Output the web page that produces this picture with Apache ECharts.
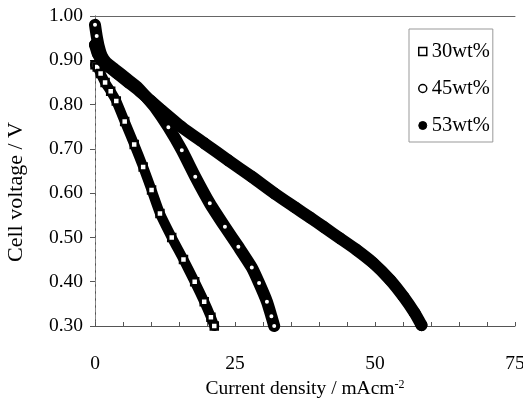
<!DOCTYPE html>
<html>
<head>
<meta charset="utf-8">
<script src="https://cdn.jsdelivr.net/npm/echarts@6/dist/echarts.min.js"></script>
<style>
html,body{margin:0;padding:0;background:#fff;}
#chart{width:523px;height:411px;}
</style>
</head>
<body>
<div id="chart"></div>
<script>
// Current density (mA/cm2) and cell voltage (V)
const current30 = [0, 0.4, 1.0, 1.8, 2.8, 3.8, 5.3, 7.0, 8.6, 10.1, 11.6, 13.7, 15.8, 17.8, 19.5, 20.7, 21.3];
const voltage30 = [0.89, 0.885, 0.87, 0.85, 0.83, 0.808, 0.762, 0.71, 0.659, 0.607, 0.554, 0.50, 0.45, 0.40, 0.355, 0.32, 0.30];

const current45 = [0, 0.3, 0.7, 1.2, 2.0, 3.5, 5.5, 7.5, 9.3, 10.7, 13.1, 15.5, 17.9, 20.5, 23.2, 25.6, 28.0, 29.3, 30.7, 31.5, 32.0];
const voltage45 = [0.98, 0.955, 0.93, 0.91, 0.895, 0.88, 0.86, 0.84, 0.815, 0.794, 0.749, 0.697, 0.637, 0.577, 0.524, 0.479, 0.432, 0.397, 0.355, 0.322, 0.30];

const current53 = [0, 0.5, 1.2, 2.5, 4.0, 6.0, 8.0, 10.0, 11.9, 15.5, 19.6, 23.8, 28.0, 32.1, 35.7, 38.4, 40.8, 43.75, 46.7, 49.7, 52.7, 55.1, 57.1, 58.3];
const voltage53 = [0.935, 0.915, 0.90, 0.885, 0.87, 0.85, 0.83, 0.808, 0.787, 0.749, 0.712, 0.674, 0.637, 0.599, 0.568, 0.545, 0.524, 0.498, 0.472, 0.442, 0.404, 0.366, 0.329, 0.302];

const seriesNames = ['30wt%', '45wt%', '53wt%'];
const xTickLabels = ['0', '25', '50', '75'];

function pairs(xs, ys) { return xs.map((x, i) => [x, ys[i]]); }

const FONT = '"Liberation Serif", "DejaVu Serif", serif';
const chart = echarts.init(document.getElementById('chart'));

chart.setOption({
  backgroundColor: '#fff',
  animation: false,
  grid: { left: 95, top: 16, right: 8, bottom: 85, show: false, containLabel: false, outerBoundsMode: 'none' },
  legend: {
    orient: 'vertical',
    left: 409, top: 29,
    padding: [12, 3, 6, 9],
    itemGap: 16,
    itemWidth: 8, itemHeight: 8,
    borderColor: '#999', borderWidth: 1,
    textStyle: { fontFamily: FONT, fontSize: 20.5, color: '#000' },
    data: [
      { name: seriesNames[0], icon: 'rect', itemStyle: { color: '#fff', borderColor: '#000', borderWidth: 1.5 } },
      { name: seriesNames[1], icon: 'circle', itemStyle: { color: '#fff', borderColor: '#000', borderWidth: 1.5 } },
      { name: seriesNames[2], icon: 'circle', itemStyle: { color: '#000', borderColor: '#000', borderWidth: 1 } }
    ]
  },
  xAxis: [{
    type: 'value', min: 0, max: 75, interval: 25,
    name: 'Current density / mAcm{s|-2}',
    nameLocation: 'middle', nameGap: 52,
    nameTextStyle: { fontFamily: FONT, fontSize: 19.5, color: '#000',
      rich: { s: { fontFamily: FONT, fontSize: 12, verticalAlign: 'top', color: '#000' } } },
    axisLine: { show: true, lineStyle: { color: '#555', width: 1 } },
    axisTick: { show: true, inside: true, length: 4, lineStyle: { color: '#555' } },
    minorTick: { show: true, splitNumber: 5, length: 4, lineStyle: { color: '#555' } },
    axisLabel: { fontFamily: FONT, fontSize: 19.5, color: '#000', margin: 28,
      formatter: (v) => xTickLabels[Math.round(v / 25)] },
    splitLine: { show: false }
  }, {
    type: 'value', min: 0, max: 75, position: 'top',
    axisLine: { show: true, lineStyle: { color: '#666', width: 1 } },
    axisTick: { show: false }, axisLabel: { show: false }, splitLine: { show: false }
  }],
  yAxis: [{
    type: 'value', min: 0.3, max: 1.0, interval: 0.1,
    name: 'Cell voltage / V',
    nameLocation: 'middle', nameGap: 68,
    nameTextStyle: { fontFamily: FONT, fontSize: 22, color: '#000', padding: [0, 42, 0, 0] },
    axisLine: { show: true, lineStyle: { color: '#555', width: 1 } },
    axisTick: { show: true, inside: false, length: 5, lineStyle: { color: '#555' } },
    axisLabel: { fontFamily: FONT, fontSize: 19.5, color: '#000', margin: 12,
      formatter: (v) => v.toFixed(2) },
    splitLine: { show: false }
  }, {
    type: 'value', min: 0.3, max: 1.0, position: 'right',
    axisLine: { show: true, lineStyle: { color: '#888', width: 1, type: [4, 3] } },
    axisTick: { show: false }, axisLabel: { show: false }, splitLine: { show: false }
  }],
  series: [
    {
      name: seriesNames[0], type: 'line', clip: false, smooth: 0.2,
      data: pairs(current30, voltage30),
      symbol: 'rect', symbolSize: 7,
      itemStyle: { color: '#fff', borderColor: '#000', borderWidth: 2.5 },
      lineStyle: { color: '#000', width: 10, cap: 'round', join: 'round' },
      z: 3
    },
    {
      name: seriesNames[1], type: 'line', clip: false, smooth: 0.2,
      data: pairs(current45, voltage45),
      symbol: 'circle', symbolSize: 7,
      itemStyle: { color: '#fff', borderColor: '#000', borderWidth: 3 },
      lineStyle: { color: '#000', width: 12, cap: 'round', join: 'round' },
      z: 4
    },
    {
      name: seriesNames[2], type: 'line', clip: false, smooth: 0.2,
      data: pairs(current53, voltage53),
      symbol: 'circle', symbolSize: 11,
      itemStyle: { color: '#000', borderColor: '#000', borderWidth: 1 },
      lineStyle: { color: '#000', width: 12, cap: 'round', join: 'round' },
      z: 5
    }
  ]
});
</script>
</body>
</html>
